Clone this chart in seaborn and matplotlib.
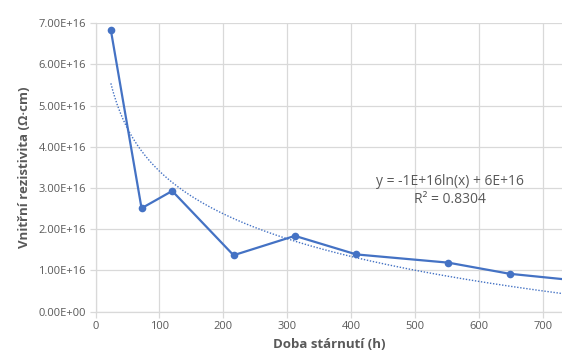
import numpy as np
import pandas as pd
import matplotlib
matplotlib.use("Agg")
import matplotlib.pyplot as plt
import seaborn as sns
from matplotlib.ticker import FuncFormatter

# DATA
hours = [24, 72, 120, 216, 312, 408, 552, 648, 744]
resistivity = [6.83e16, 2.51e16, 2.93e16, 1.37e16, 1.84e16, 1.39e16, 1.19e16, 0.92e16, 0.77e16]
x_ticks = [0, 100, 200, 300, 400, 500, 600, 700]
y_ticks = [0, 1e16, 2e16, 3e16, 4e16, 5e16, 6e16, 7e16]
trend_label = "y = -1E+16ln(x) + 6E+16\nR² = 0.8304"

df = pd.DataFrame({"hours": hours, "resistivity": resistivity})

# logarithmic trendline, fitted like the spreadsheet does
a, b = np.polyfit(np.log(df["hours"]), df["resistivity"], 1)
trend_x = np.linspace(df["hours"].min(), df["hours"].max(), 300)
trend = pd.DataFrame({"hours": trend_x, "fit": a * np.log(trend_x) + b})

sns.set_theme(style="whitegrid")
plt.rcParams["font.family"] = ["Open Sans", "DejaVu Sans"]

blue = "#4472C4"
gray = "#595959"

fig = plt.figure(figsize=(5.62, 3.61), dpi=100)
ax = fig.add_axes([0.17, 0.1366, 0.83, 0.799])

sns.lineplot(data=df, x="hours", y="resistivity", marker="o", color=blue,
             linewidth=1.6, markersize=5.5, markeredgewidth=0, ax=ax)
sns.lineplot(data=trend, x="hours", y="fit", color=blue, linestyle=(0, (1, 1.2)),
             linewidth=1.0, ax=ax)

ax.set_xlim(0, 730)
ax.set_ylim(0, 7e16)
ax.set_xticks(x_ticks)
ax.set_yticks(y_ticks)
ax.yaxis.set_major_formatter(FuncFormatter(lambda v, p: f"{v:.2E}"))

ax.grid(True, color="#d9d9d9", linewidth=0.9)
for side in ["top", "right"]:
    ax.spines[side].set_visible(False)
for side in ["left", "bottom"]:
    ax.spines[side].set_color("#d9d9d9")
    ax.spines[side].set_linewidth(0.9)

ax.tick_params(axis="both", labelcolor=gray, color="#d9d9d9", labelsize=8,
               length=4, width=0.9, direction="out", pad=3,
               left=True, bottom=True)

ax.set_xlabel("Doba stárnutí (h)", fontsize=9.5, fontweight="bold", color=gray, labelpad=4)
ax.set_ylabel("Vnitřní rezistivita (Ω·cm)", fontsize=9.5, fontweight="bold", color=gray, labelpad=5)

ax.text(555, 2.95e16, trend_label, ha="center", va="center", fontsize=10,
        color=gray, linespacing=1.25)

fig.savefig("out.png", dpi=100)
